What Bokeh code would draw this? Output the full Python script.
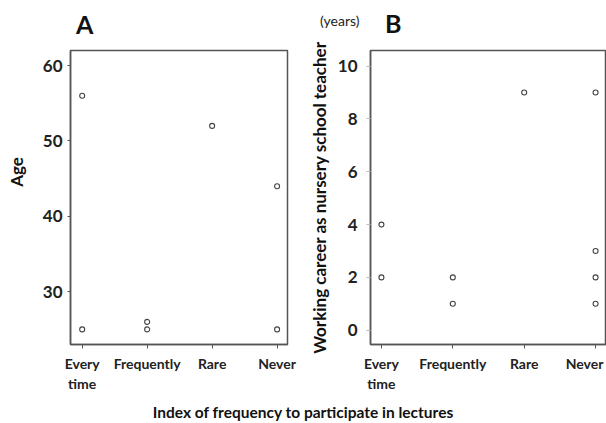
from bokeh.plotting import figure
from bokeh.layouts import row, column
from bokeh.models import FixedTicker, Range1d, Div
from bokeh.embed import file_html
from bokeh.resources import INLINE

# ---- data ----
categories = ["Every time", "Frequently", "Rare", "Never"]
cat_pos = [1, 2, 3, 4]

age_cat = [1, 1, 2, 2, 3, 4, 4]
age_vals = [56, 25, 26, 25, 52, 44, 25]

career_cat = [1, 1, 2, 2, 3, 4, 4, 4, 4]
career_vals = [4, 2, 2, 1, 9, 9, 3, 2, 1]

age_ticks = [30, 40, 50, 60]
career_ticks = [0, 2, 4, 6, 8, 10]

FONT = "Lato"
DARK = "#222222"
FRAME = "#555555"


def base_fig(width, height, x_range, y_range, mbl, mbr, mbt, mbb):
    p = figure(width=width, height=height, output_backend="svg",
               toolbar_location=None, x_range=x_range, y_range=y_range,
               min_border_left=mbl, min_border_right=mbr,
               min_border_top=mbt, min_border_bottom=mbb)
    p.xgrid.visible = False
    p.ygrid.visible = False
    p.outline_line_color = FRAME
    p.outline_line_width = 1.5
    p.background_fill_color = "white"
    p.border_fill_color = "white"
    for ax in (p.xaxis[0], p.yaxis[0]):
        ax.axis_line_color = FRAME
        ax.axis_line_width = 1.5
        ax.minor_tick_line_color = None
        ax.major_tick_in = 0
        ax.major_tick_out = 4
        ax.major_tick_line_color = FRAME
    p.xaxis.ticker = FixedTicker(ticks=cat_pos)
    p.xaxis.major_label_text_font = FONT
    p.xaxis.major_label_text_font_style = "bold"
    p.xaxis.major_label_text_font_size = "14px"
    p.xaxis.major_label_text_color = DARK
    p.xaxis.major_label_standoff = 6
    p.yaxis.major_label_text_font = FONT
    p.yaxis.major_label_text_font_style = "bold"
    p.yaxis.major_label_text_font_size = "17px"
    p.yaxis.major_label_text_color = DARK
    return p


def tick_labels(shift_last=0):
    labels = {}
    for p, c in zip(cat_pos, categories):
        t = c.replace(" ", "\n")
        if p == cat_pos[-1] and shift_last:
            t = t + "\u00a0" * shift_last
        labels[p] = t
    return labels


# ---- Panel A ----
pA = base_fig(275, 354, Range1d(0.82, 4.16), Range1d(23, 62), 40, 18, 8, 52)
pA.scatter(age_cat, age_vals, marker="circle", size=5, fill_color=None,
           line_color="#444444", line_width=1.1)
pA.yaxis.ticker = FixedTicker(ticks=age_ticks)
pA.yaxis.major_tick_out = 3
pA.xaxis.major_label_overrides = tick_labels()

age_label_html = (
    '<div style="position:relative;width:30px;height:354px">'
    '<span style="position:absolute;left:16px;top:130px;white-space:nowrap;'
    'transform:translate(-50%,-50%) rotate(-90deg);font-family:Lato;font-weight:bold;'
    'font-size:17px;line-height:17px;color:#111">Age</span></div>'
)
age_label = Div(text=age_label_html, width=30, height=354, margin=0)

# ---- Panel B ----
pB = base_fig(301, 354, Range1d(0.847, 4.153), Range1d(-0.54, 10.59), 63, 0, 8, 49)
pB.scatter(career_cat, career_vals, marker="circle", size=5, fill_color=None,
           line_color="#444444", line_width=1.1)
pB.yaxis.ticker = FixedTicker(ticks=career_ticks)
pB.yaxis.major_tick_line_color = "#bbbbbb"
pB.yaxis.major_label_standoff = 9
pB.yaxis.axis_label = "Working career as nursery school teacher"
pB.yaxis.axis_label_text_font = FONT
pB.yaxis.axis_label_text_font_style = "bold"
pB.yaxis.axis_label_text_font_size = "17px"
pB.yaxis.axis_label_text_color = "#111111"
pB.yaxis.axis_label_standoff = 5
pB.xaxis.major_label_overrides = tick_labels(shift_last=1)

# ---- header and footer text ----
header_html = (
    '<div style="position:relative;width:606px;height:42px;font-family:Lato;color:#111">'
    '<span style="position:absolute;left:76px;top:12px;font-size:25px;font-weight:bold;'
    'line-height:25px">A</span>'
    '<span style="position:absolute;left:320px;top:14px;font-size:14px;'
    'line-height:14px;color:#222">(years)</span>'
    '<span style="position:absolute;left:385px;top:11px;font-size:25px;font-weight:bold;'
    'line-height:25px">B</span>'
    '</div>'
)
header = Div(text=header_html, width=606, height=42, margin=0)

footer = Div(text="Index of frequency to participate in lectures", width=606, height=27,
             margin=0,
             styles={"font-family": FONT, "font-weight": "bold", "font-size": "15.5px",
                     "text-align": "center", "line-height": "32px", "color": "#111111",
                     "width": "606px", "height": "27px", "overflow": "hidden"})

layout = column(header, row(age_label, pA, pB), footer)

open("out.html", "w").write(file_html(layout, INLINE))
